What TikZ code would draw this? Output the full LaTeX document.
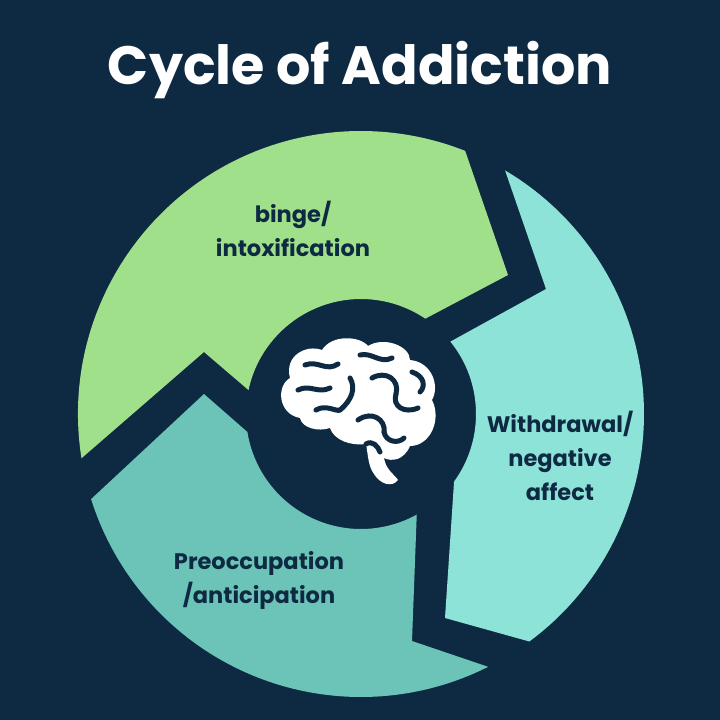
\documentclass[tikz,border=0pt]{standalone}
\usepackage{fontspec}
\usetikzlibrary{calc}
\setmainfont{Poppins}
\definecolor{bg}{HTML}{0E2A42}
\definecolor{gr}{HTML}{A0E08A}
\definecolor{tr}{HTML}{8EE3D8}
\definecolor{tl}{HTML}{6CC4B8}
\begin{document}
\begin{tikzpicture}[x=1pt,y=-1pt,
  lab/.style={text=bg,font=\bfseries\fontsize{22.5}{34}\selectfont,align=center},
  fold/.style={draw=bg,line width=5pt,line cap=round,line join=round}]
\fill[bg] (0,0) rectangle (720,720);
\useasboundingbox (0,0) rectangle (720,720);
\coordinate (C) at (361,414);
% green
\fill[gr] (C) ++(171:283) arc[start angle=171,end angle=291.6,radius=283]
  -- (508,275) -- ($(C)+(304:115)$) arc[start angle=304,end angle=192,radius=115]
  -- (204,352) -- cycle;
% right teal
\fill[tr] (C) ++(300.6:283) arc[start angle=300.6,end angle=413.5,radius=283]
  -- (445,618) -- ($(C)+(396:115)$) arc[start angle=396,end angle=321,radius=115]
  -- (546,289) -- cycle;
% left teal
\fill[tl] (C) ++(63.3:283) arc[start angle=63.3,end angle=162.5,radius=283]
  -- (204,394) -- ($(C)+(171:115)$) arc[start angle=171,end angle=61,radius=115]
  -- (412,641) -- cycle;
\node[text=white,font=\bfseries\fontsize{54}{60}\selectfont] (title) at (360,70) {Cycle of Addiction};
\node[lab] (b) at (293,229) {binge/\\intoxification};
\node[lab] (w) at (560,456) {Withdrawal/\\negative\\affect};
\node[lab] (p) at (259,580) {Preoccupation\\/anticipation};
% brain
\fill[white] (300,418) .. controls (278,414) and (276,386) .. (290,378)
  .. controls (284,356) and (306,344) .. (322,350)
  .. controls (332,334) and (360,336) .. (368,346)
  .. controls (384,336) and (410,346) .. (410,360)
  .. controls (432,362) and (440,386) .. (432,400)
  .. controls (442,420) and (430,446) .. (410,446)
  .. controls (404,460) and (392,462) .. (384,458)
  .. controls (386,470) and (394,474) .. (398,480)
  .. controls (392,488) and (380,484) .. (374,474)
  .. controls (368,466) and (368,454) .. (366,444)
  .. controls (350,446) and (334,440) .. (330,428)
  .. controls (318,432) and (302,428) .. (300,418) -- cycle;
\draw[fold] (298,390) .. controls (310,384) and (318,394) .. (330,388);
\draw[fold] (305,365) .. controls (318,360) and (326,372) .. (338,364);
\draw[fold] (340,410) .. controls (352,400) and (356,388) .. (350,378);
\draw[fold] (316,410) .. controls (326,404) and (336,412) .. (340,410);
\draw[fold] (360,355) .. controls (372,352) and (380,364) .. (392,358);
\draw[fold] (372,378) .. controls (386,370) and (400,380) .. (396,394);
\draw[fold] (396,394) .. controls (392,406) and (404,414) .. (418,408);
\draw[fold] (412,372) .. controls (424,376) and (426,386) .. (420,392);
\draw[fold] (358,420) .. controls (372,410) and (386,420) .. (384,432);
\draw[fold] (384,432) .. controls (386,442) and (398,444) .. (404,438);
\draw[fold] (366,444) .. controls (372,440) and (378,446) .. (380,452);
\end{tikzpicture}
\end{document}
